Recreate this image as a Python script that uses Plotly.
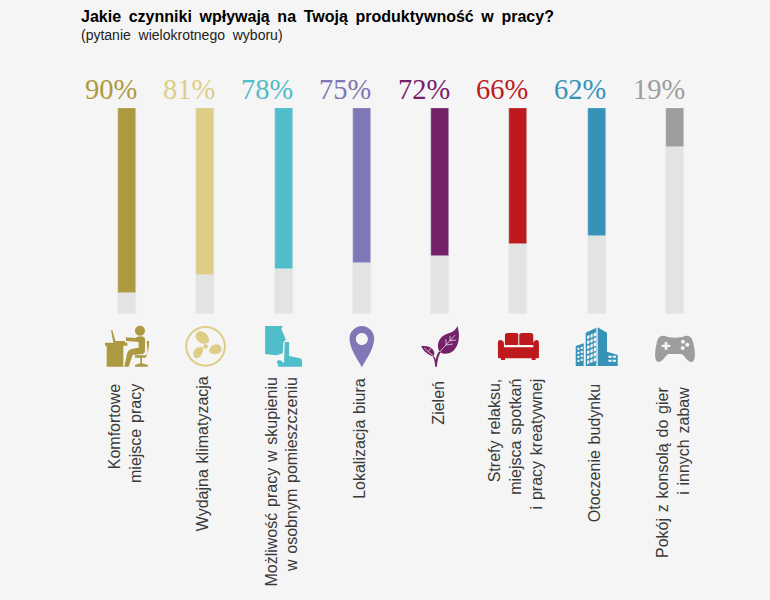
import re
import plotly.graph_objects as go

# Data
categories = ["Komfortowe miejsce pracy", "Wydajna klimatyzacja", "Możliwość pracy w skupieniu",
              "Lokalizacja biura", "Zieleń", "Strefy relaksu", "Otoczenie budynku", "Pokój z konsolą"]
values = [90, 81, 78, 75, 72, 66, 62, 19]
full = [100] * 8
labels = ["Komfortowe<br>miejsce pracy", "Wydajna klimatyzacja",
          "Możliwość pracy w skupieniu<br>w osobnym pomieszczeniu", "Lokalizacja biura", "Zieleń",
          "Strefy relaksu,<br>miejsca spotkań<br>i pracy kreatywnej", "Otoczenie budynku",
          "Pokój z konsolą do gier<br>i innych zabaw"]
colors = ["#AD9A40", "#DECD87", "#4FBDCA", "#7F77B6", "#75216A", "#BE1A1D", "#3693B7", "#9D9D9D"]
label_tops = [382, 374, 376, 376, 379, 376, 382, 385]

BG = "#F5F5F5"
W, H = 770, 600


def py(px):
    return 1 - px / H


def circle(cx, cy, r):
    k = r * 0.5523
    return (f"M{cx - r},{cy} C{cx - r},{cy - k} {cx - k},{cy - r} {cx},{cy - r} "
            f"C{cx + k},{cy - r} {cx + r},{cy - k} {cx + r},{cy} "
            f"C{cx + r},{cy + k} {cx + k},{cy + r} {cx},{cy + r} "
            f"C{cx - k},{cy + r} {cx - r},{cy + k} {cx - r},{cy} Z ")


def rect(x0, y0, x1, y1):
    return f"M{x0},{y0} L{x1},{y0} L{x1},{y1} L{x0},{y1} Z "


# Icons are traced at 3x scale, origin given per icon (bar centre, icon middle)
desk = (rect(45, 188, 112, 197) + rect(50, 197, 100, 260)
        + "M63,151 L67,150 L76,183 L105,183 L105,188 L70,188 Z "
        + circle(150, 152, 15)
        + "M108,172 L135,174 C145,168 160,166 165,176 L165,212 C165,220 158,223 150,223 L128,225 "
          "L116,260 L103,260 L110,226 C112,215 118,207 128,206 L146,203 L146,186 L108,183 Z "
        + "M170,183 L177,183 C177,200 176,218 168,226 L135,226 L135,233 L151,233 L151,250 "
          "L135,255 L135,260 L174,260 L174,255 L156,250 L156,233 L166,233 C175,228 172,205 170,183 Z ")
fan = (circle(346, 199, 61) + circle(346, 199, 55)
       + "M336,191 C318,185 310,166 321,156 C336,147 360,163 356,187 C350,191 343,192 336,191 Z "
       + "M357,207 C365,193 387,186 393,203 C397,220 375,228 359,218 C356,214 356,211 357,207 Z "
       + "M339,206 C338,226 322,243 311,231 C303,214 320,198 335,202 Z "
       + circle(346, 199, 7))
head = ("M525,138 L578,138 L574,148 L582,165 L587,180 L580,186 L578,220 L560,226 L525,222 Z "
        "M584,186 L597,186 L597,228 L630,235 L636,240 L636,260 L565,260 L560,243 L570,240 L582,250 Z ")
pin = ("M815,262 C800,235 778,205 778,175 C778,155 795,138 815,138 C835,138 852,155 852,175 "
       "C852,205 830,235 815,262 Z " + circle(815, 177, 18))
leaf = ("M118,215 C105,190 120,165 150,158 C160,155 168,148 172,138 C180,165 178,195 160,212 "
        "C148,222 130,225 118,215 Z "
        "M100,230 C85,225 70,215 63,198 C75,197 95,198 102,215 C103,220 102,225 100,230 Z "
        "M105,260 L110,260 C112,245 113,230 122,216 L117,213 C108,228 108,235 107,240 "
        "C106,235 104,232 100,228 L98,230 C103,238 105,250 105,260 Z")
leaf_veins = ("M118,216 L165,165 M138,195 L137,178 M138,195 L158,192 M150,182 L150,168 M150,182 L168,180 "
              "M72,204 L100,228 M85,215 L92,204")
sofa = ("M322,159 L350,159 C354,159 355,162 355,165 L355,195 L315,195 L315,165 C315,162 318,159 322,159 Z "
        "M365,159 L393,159 C397,159 400,162 400,165 L400,195 L358,195 L358,165 C358,162 361,159 365,159 Z "
        "M300,180 C307,180 312,184 312,190 L312,202 L400,202 L400,190 C400,184 406,180 411,180 "
        "C415,180 417,184 417,188 L417,232 C417,235 414,235 407,235 L407,240 L396,240 L395,235 L316,235 "
        "L315,240 L304,240 L303,235 C298,235 294,235 294,232 L294,188 C294,184 296,180 300,180 Z")
tower = "M558,158 L590,143 L590,258 L558,258 Z M594,142 L622,158 L622,215 L654,225 L654,258 L594,258 Z "
tower += "M528,198 L552,190 L552,258 L528,258 Z "
for row in range(6):
    for cx in (562, 572, 582):
        top = 168 - (cx - 562) * 0.4 + row * 15
        tower += f"M{cx},{top} L{cx + 7},{top - 3} L{cx + 7},{top + 7} L{cx},{top + 10} Z "
for row in range(4):
    for cx in (533, 543):
        top = 203 - (cx - 533) * 0.3 + row * 12
        tower += rect(cx, top, cx + 6, top + 7)
for row in range(2):
    for cx in (626, 639):
        tower += rect(cx, 227 + row * 12, cx + 10, 233 + row * 12)
gamepad = ("M795,168 C780,165 772,175 770,190 C765,210 762,240 772,245 C785,250 795,228 805,222 L845,222 "
           "C855,228 865,250 878,245 C888,240 885,210 880,190 C877,175 870,165 855,168 C848,172 840,173 825,173 "
           "C810,173 802,172 795,168 Z "
           "M794,186 L802,186 L802,194 L811,194 L811,201 L802,201 L802,209 L794,209 L794,201 L785,201 L785,194 L794,194 Z "
           + circle(849, 185, 6) + circle(862, 194, 6) + circle(848, 204, 6))

icons = [(desk, 111), (fan, 345), (head, 580.5), (pin, 815), (leaf, 120), (sofa, 355.5), (tower, 591), (gamepad, 825)]
ICON_Y = 198


def to_pixels(path, ox):
    # zoomed image coords -> pixels around the anchor, y up
    def conv(m):
        x = (float(m.group(1)) - ox) / 3
        y = -(float(m.group(2)) - ICON_Y) / 3
        return f"{x:.2f},{y:.2f}"
    return re.sub(r"(-?[\d.]+),(-?[\d.]+)", conv, path)


fig = go.Figure()
fig.add_trace(go.Bar(x=categories, y=full, marker_color="#E3E3E3", width=0.23, hoverinfo="skip"))
fig.add_trace(go.Bar(x=categories, y=values, marker_color=colors, width=0.23))

shapes = []
for i, (path, ox) in enumerate(icons):
    shapes.append(dict(type="path", path=to_pixels(path, ox), xref="x", yref="paper",
                       xsizemode="pixel", ysizemode="pixel", xanchor=categories[i], yanchor=py(346),
                       fillcolor=colors[i], fillrule="evenodd", line_width=0, layer="above"))
shapes.append(dict(type="path", path=to_pixels(leaf_veins, 120), xref="x", yref="paper",
                   xsizemode="pixel", ysizemode="pixel", xanchor=categories[4], yanchor=py(346),
                   line=dict(color=BG, width=0.7)))

# the reference has wider word gaps than the browser gives
title_gap = " \u2009"
title_words = "Jakie czynniki wpływają na Twoją produktywność w pracy?".split(" ")
annotations = []
annotations.append(dict(text="<b>" + title_gap.join(title_words) + "</b>",
                        xref="paper", yref="paper", x=79 / W, y=py(6), xanchor="left", yanchor="top",
                        showarrow=False, font=dict(family="Liberation Sans", size=16, color="#000000")))
annotations.append(dict(text="(pytanie\u00a0 wielokrotnego\u00a0 wyboru)", xref="paper", yref="paper", x=79 / W, y=py(25),
                        xanchor="left", yanchor="top", showarrow=False,
                        font=dict(family="Liberation Sans", size=14, color="#222222")))
for i, cat in enumerate(categories):
    annotations.append(dict(text=f"{values[i]}%", x=cat, y=0, xref="x", yref="y", yanchor="bottom", xshift=-16.5,
                            yshift=1, showarrow=False,
                            font=dict(family="Liberation Serif", size=28.5, color=colors[i])))
    annotations.append(dict(text=labels[i].replace(" ", " \u200a"), x=cat, y=py(label_tops[i]), xref="x", yref="paper",
                            xshift=-2.5, xanchor="center", yanchor="top", textangle=-90, align="right",
                            showarrow=False, font=dict(family="Liberation Sans", size=16, color="#3A3A3A")))

spacing = (675 - 127) / 7
fig.update_layout(width=W, height=H, autosize=False, margin=dict(l=0, r=0, t=0, b=0),
                  paper_bgcolor=BG, plot_bgcolor=BG, barmode="overlay", showlegend=False, bargap=0,
                  shapes=shapes, annotations=annotations)
fig.update_xaxes(visible=False, range=[-127 / spacing, (W - 127) / spacing], domain=[0, 1])
fig.update_yaxes(visible=False, range=[100, 0], domain=[py(314), py(108)])

fig.write_html("out.html", config=dict(displayModeBar=False),
               post_script="document.body.style.margin='0';document.body.style.background='#F5F5F5';")
